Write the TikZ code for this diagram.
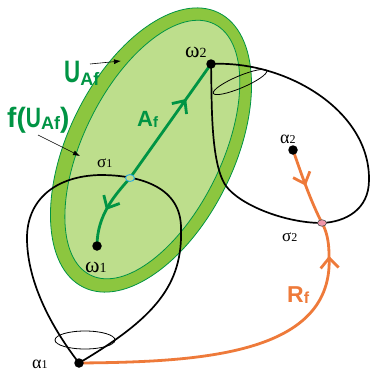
\documentclass[tikz,border=0pt]{standalone}
\usepackage{fontspec}
\setmainfont{Liberation Serif}
\newfontfamily\lsans{Liberation Sans}
\usetikzlibrary{arrows.meta,decorations.markings,shapes.geometric}
\definecolor{bandgreen}{RGB}{140,198,63}
\definecolor{innergreen}{RGB}{189,222,140}
\definecolor{linegreen}{RGB}{0,148,68}
\definecolor{orangef}{RGB}{238,122,58}
\definecolor{cyanring}{RGB}{41,171,226}
\definecolor{pinkdot}{RGB}{240,150,170}
\newcommand{\grklab}[4]{{\fontsize{#3}{#3}\selectfont #1}{\fontsize{#4}{#4}\selectfont #2}}
\begin{document}
\begin{tikzpicture}[x=1pt,y=-1pt,
  dot/.style={circle,fill=black,inner sep=0pt,minimum size=9.5pt},
  loopline/.style={black,line width=1.7pt},
  thinring/.style={black,line width=0.8pt},
  flowA/.style={linegreen,line width=2.8pt},
  flowR/.style={orangef,line width=2.8pt},
  chev/.style={postaction={decorate},decoration={markings,
     mark=at position #1 with {\arrow{Straight Barb[length=10pt,width=18pt]}}}},
  lab/.style={inner sep=0pt,anchor=base west},
  pointer/.style={-{Latex[length=7pt,width=5pt]},line width=0.6pt,black}
]
\useasboundingbox (0,0) rectangle (370,372);

% green regions
\filldraw[fill=bandgreen,draw=linegreen,line width=0.8pt,rotate around={63.8:(151,150)}]
  (151,150) ellipse [x radius=153, y radius=83];
\filldraw[fill=innergreen,draw=linegreen,line width=0.8pt,rotate around={63.8:(151,150)}]
  (152,151) ellipse [x radius=140, y radius=69];

% points
\coordinate (w1) at (97,246);
\coordinate (w2) at (211,64);
\coordinate (a1) at (79,363);
\coordinate (a2) at (293,150);
\coordinate (s1) at (130,178);
\coordinate (s2) at (322,223);

% black loops
\draw[loopline] (a1) .. controls (55,332) and (27,285) .. (27,238)
  .. controls (27,200) and (55,176) .. (100,175)
  .. controls (142,175) and (181,188) .. (181,228)
  .. controls (183,285) and (155,318) .. (a1);
\draw[loopline] (w2) .. controls (285,60) and (370,110) .. (369,180)
  .. controls (369,210) and (345,222) .. (s2)
  .. controls (285,223) and (240,205) .. (226,186)
  .. controls (210,163) and (212,100) .. (w2);
\draw[thinring] (85,340) ellipse [x radius=30, y radius=9];
\draw[thinring,rotate around={23:(240,82)}] (240,82) ellipse [x radius=29, y radius=6];

% A_f
\draw[flowA,chev=40pt] (s1) .. controls (115,195) and (97,215) .. (w1);
\draw[flowA,chev=97pt] (s1) -- (w2);
% R_f
\draw[flowR,chev=-34pt] (a1) .. controls (200,362) and (335,355) .. (329,255)
  .. controls (329,240) and (326,230) .. (s2);
\draw[flowR,chev=38pt] (a2) .. controls (300,170) and (310,200) .. (s2);

% dots
\node[dot] (d-w1) at (w1) {};
\node[dot] (d-w2) at (w2) {};
\node[dot] (d-a1) at (a1) {};
\node[dot] (d-a2) at (a2) {};
\node[ellipse,draw=cyanring,fill=innergreen,line width=0.9pt,inner sep=0pt,
  minimum width=9pt,minimum height=7pt] (d-s1) at (s1) {};
\node[ellipse,draw=black!70,fill=pinkdot,line width=0.6pt,inner sep=0pt,
  minimum width=9pt,minimum height=6.5pt] (d-s2) at (s2) {};

% greek labels
\node[lab] (l-w2) at (185,57) {\grklab{ω}{2}{22}{14}};
\node[lab] (l-w1) at (85,272) {\grklab{ω}{1}{22}{14}};
\node[lab] (l-a1) at (32,368) {\grklab{α}{1}{18}{12}};
\node[lab] (l-a2) at (280,143) {\grklab{α}{2}{18}{12}};
\node[lab] (l-s1) at (97,167) {\grklab{σ}{1}{17}{12}};
\node[lab] (l-s2) at (282,241) {\grklab{σ}{2}{17}{12}};

% green / orange labels
\node[lab,text=linegreen] (l-U) at (64,82) {\lsans\bfseries
  \scalebox{0.72}[1]{\fontsize{31}{31}\selectfont U}\raisebox{-3pt}{\fontsize{18}{18}\selectfont Af}};
\node[lab,text=linegreen] (l-fU) at (7,127) {\lsans\bfseries\fontsize{28}{28}\selectfont
  f(\scalebox{0.75}[1]{U}\raisebox{-2pt}{\fontsize{18}{18}\selectfont Af})};
\node[lab,text=linegreen] (l-A) at (137,126) {\lsans\bfseries
  {\fontsize{22}{22}\selectfont A}\raisebox{-1pt}{\fontsize{15}{15}\selectfont f}};
\node[lab,text=orangef] (l-R) at (287,302) {\lsans\bfseries
  {\fontsize{23}{23}\selectfont R}\raisebox{-1pt}{\fontsize{16}{16}\selectfont f}};

% pointers
\coordinate (pU1) at (90,64);
\coordinate (pU2) at (121,61);
\coordinate (pf1) at (38,135);
\coordinate (pf2) at (80,156);
\draw[pointer] (pU1) -- (pU2);
\draw[pointer] (pf1) -- (pf2);
\end{tikzpicture}
\end{document}
